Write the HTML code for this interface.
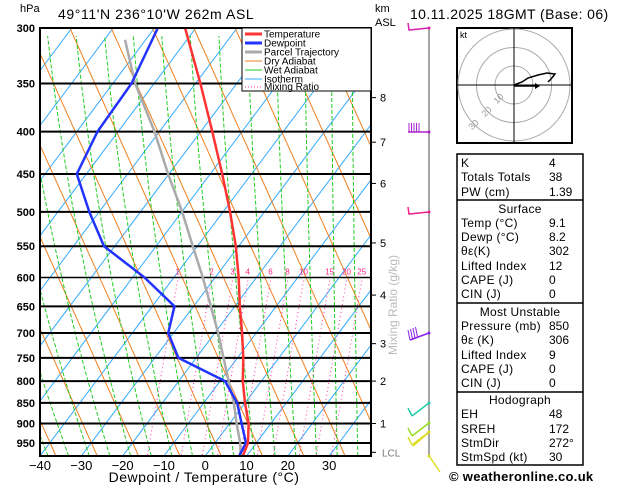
<!DOCTYPE html>
<html><head><meta charset="utf-8">
<style>
body{margin:0;background:#fff;font-family:"Liberation Sans",sans-serif;}
svg text{font-family:"Liberation Sans",sans-serif;}
</style></head>
<body>
<svg id="chart" width="629" height="486" viewBox="0 0 629 486" xmlns="http://www.w3.org/2000/svg">
<defs><clipPath id="pc"><rect x="40" y="28" width="331" height="428"/></clipPath></defs>
<rect x="0" y="0" width="629" height="486" fill="#fff"/>
<g id="bg" clip-path="url(#pc)"></g>
<g id="grid"></g>
<g id="series" clip-path="url(#pc)"></g>
<rect x="40" y="28" width="331" height="428" fill="none" stroke="#000" stroke-width="2"/>
<g id="axes"></g>
<text x="20" y="12" font-size="11">hPa</text>
<text x="58" y="19" font-size="14" letter-spacing="0.6">49°11'N  236°10'W  262m  ASL</text>
<text x="375" y="12" font-size="11">km</text>
<text x="375" y="26" font-size="11">ASL</text>
<text x="410" y="19" font-size="14" letter-spacing="0.4">10.11.2025  18GMT  (Base: 06)</text>
<text x="204" y="482" font-size="14" text-anchor="middle" letter-spacing="0.5">Dewpoint / Temperature (°C)</text>
<text transform="translate(397,355) rotate(-90)" font-size="12" fill="#bbb">Mixing Ratio (g/kg)</text>
<g>
<rect x="242" y="28" width="129" height="63" fill="#fff" stroke="#000" stroke-width="1"/>
<line x1="245" y1="34" x2="262" y2="34" stroke="#ff3333" stroke-width="3"/><text x="264" y="37.5" font-size="10">Temperature</text>
<line x1="245" y1="43" x2="262" y2="43" stroke="#2233ff" stroke-width="3"/><text x="264" y="46.5" font-size="10">Dewpoint</text>
<line x1="245" y1="52" x2="262" y2="52" stroke="#aaa" stroke-width="3"/><text x="264" y="55.5" font-size="10">Parcel Trajectory</text>
<line x1="245" y1="61" x2="262" y2="61" stroke="#f08020" stroke-width="1"/><text x="264" y="64.5" font-size="10">Dry Adiabat</text>
<line x1="245" y1="70" x2="262" y2="70" stroke="#22cc22" stroke-width="1"/><text x="264" y="73.5" font-size="10">Wet Adiabat</text>
<line x1="245" y1="79" x2="262" y2="79" stroke="#33aaff" stroke-width="1"/><text x="264" y="82.5" font-size="10">Isotherm</text>
<line x1="245" y1="87" x2="262" y2="87" stroke="#ff33aa" stroke-width="1" stroke-dasharray="1,2"/><text x="264" y="90" font-size="10">Mixing Ratio</text>
</g>
<g id="wind"></g>
<g>
<rect x="457" y="28" width="115" height="115" fill="#fff" stroke="#000" stroke-width="2"/>
<circle cx="514" cy="85" r="19" fill="none" stroke="#aaa"/>
<circle cx="514" cy="85" r="37.5" fill="none" stroke="#aaa"/>
<circle cx="514" cy="85" r="56" fill="none" stroke="#aaa"/>
<line x1="457" y1="85" x2="572" y2="85" stroke="#000"/>
<line x1="514" y1="28" x2="514" y2="143" stroke="#000"/>
<text x="460" y="38" font-size="9">kt</text>
<text x="495" y="101" font-size="9" fill="#999" transform="rotate(-45 500 100)">10</text>
<text x="483" y="114" font-size="9" fill="#999" transform="rotate(-45 488 113)">20</text>
<text x="470" y="127" font-size="9" fill="#999" transform="rotate(-45 475 126)">30</text>
<polyline points="514,85 522,82 528,78 538,75 547,73 555,74 551,79 548,82" fill="none" stroke="#000" stroke-width="1.5"/>
<polyline points="514,86 535,86" fill="none" stroke="#000" stroke-width="1.5"/>
<polygon points="535,83 540,86 535,89" fill="#000"/>
</g>
<g id="table"></g>
<text x="449" y="481" font-size="13" font-weight="bold" letter-spacing="0.3">© weatheronline.co.uk</text>
<script>
const pressures=[300,350,400,450,500,550,600,650,700,750,800,850,900,950,985];
const tempVals=[-82.6,-68.8,-57.2,-47.1,-38.3,-30.7,-24.3,-18.8,-13.4,-8.6,-4.5,0,4.6,8,9.1];
const dewVals=[-89.2,-85.5,-85,-82.3,-72.4,-62.6,-47.1,-34.6,-31.3,-24.3,-8.8,-1.9,2.9,7.5,8.2];
const parcelP=[310,350,400,450,500,550,600,650,700,750,800,850,900,950,985];
const parcelVals=[-95,-84.6,-71.2,-60.2,-49.9,-41.1,-33,-25.8,-19.2,-13.4,-7.9,-2.7,1.7,6.1,8.6];
const pressureTicks=[300,350,400,450,500,550,600,650,700,750,800,850,900,950];
const tempTicks=[-40,-30,-20,-10,0,10,20,30];
const kmTicks=["8","7","6","5","4","3","2","1","LCL"];
const kmPress=[364,412,462,545,630,721,800,900,975];
const mixLabels=["1","2","3","4","6","8","10","15","20","25"];
const mixTemps=[-39.1,-30.9,-25.8,-22.1,-16.6,-12.5,-8.6,-2.3,1.8,5.5];

const NS="http://www.w3.org/2000/svg";
const Y0=28,K=360,YB=456,X0=40,SX=4.13,SK=0.75;
function yOf(p){return Y0+K*Math.log(p/300);}
function xOf(T,p){return X0+(T+40)*SX+SK*(YB-yOf(p));}
function mk(tag,attrs,parent){const e=document.createElementNS(NS,tag);for(const k in attrs)e.setAttribute(k,attrs[k]);parent.appendChild(e);return e;}
const bg=document.getElementById('bg');
for(let T=-140;T<=40;T+=10){
 const l=mk('line',{x1:xOf(T,985),y1:YB,x2:xOf(T,300),y2:Y0,stroke:'#33aaff','stroke-width':1},bg);
 
 
}
for(let i=-12;i<=12;i++){
 const xb=40+i*41.3+16;
 const l=mk('line',{x1:xb,y1:YB,x2:xb-0.45*428,y2:Y0,stroke:'#f08020','stroke-width':1},bg);
 
 
}
for(let i=-6;i<=16;i++){
 const xb=40+i*20.65+8;
 const s=Math.max(0.02,0.4-(xb-40)*0.0013);
 let pts=[];for(let y=YB;y>=Y0;y-=10){const d=YB-y;pts.push((xb-s*d*(1-d/1400)).toFixed(1)+','+y);}
 const l=mk('polyline',{points:pts.join(' '),fill:'none',stroke:'#22cc22','stroke-width':1,'stroke-dasharray':'4,2'},bg);
 
 
}
mixLabels.forEach((lab,i)=>{
 const T=mixTemps[i];const x6=xOf(T,600);const y6=yOf(600);
 const l=mk('line',{x1:x6,y1:y6+3,x2:x6-0.17*(YB-y6),y2:YB,stroke:'#ff33aa','stroke-width':1,'stroke-dasharray':'1,3'},bg);
 
 
 const t=mk('text',{x:x6,y:y6-3,'font-size':8,fill:'#ff2288','text-anchor':'middle'},document.getElementById('axes'));
 t.textContent=lab;
 
 
});
const grid=document.getElementById('grid'),axes=document.getElementById('axes');
pressureTicks.forEach(p=>{
 const y=yOf(p);
 const l=mk('line',{x1:40,y1:y,x2:371,y2:y,stroke:'#000','stroke-width':p==600?1.5:2},grid);
 
 
 const t=mk('text',{x:35,y:y+4,'font-size':11,'font-weight':'bold','text-anchor':'end'},axes);
 t.textContent=p;
 
 
});
tempTicks.forEach(T=>{
 const x=X0+(T+40)*SX;
 const t=mk('text',{x:x,y:470,'font-size':13,'text-anchor':'middle'},axes);
 t.textContent=(T<0?'\u2212'+(-T):T);
 
 
});
kmTicks.forEach((k,i)=>{
 const y=yOf(kmPress[i]);
 mk('line',{x1:371,y1:y,x2:376,y2:y,stroke:'#000'},axes);
 const t=mk('text',{x:k=='LCL'?382:380,y:y+4,'font-size':k=='LCL'?10:11,fill:k=='LCL'?'#777':'#000'},axes);
 t.textContent=k;
 
 
});
const series=document.getElementById('series');
function line(P,V,col,w,name){
 const pts=P.map((p,i)=>xOf(V[i],p).toFixed(1)+','+yOf(p).toFixed(1)).join(' ');
 const e=mk('polyline',{points:pts,fill:'none',stroke:col,'stroke-width':w,'stroke-linejoin':'round'},series);
 
 
}
line(parcelP,parcelVals,'#aaaaaa',2.5,'parcel-trajectory');
line(pressures,dewVals,'#2233ff',2.5,'dewpoint-line');
line(pressures,tempVals,'#ff3333',2.5,'temperature-line');
const wind=document.getElementById('wind');
mk('line',{x1:429,y1:28,x2:429,y2:456,stroke:'#888','stroke-width':1.5},wind);
const barbY=[28,132,212,333,403,423,432,456];
const barbC=['#dd22aa','#aa22cc','#ee2288','#8822ee','#22ccaa','#99dd22','#dddd22','#dddd22'];
barbY.forEach((y,i)=>{
 const c=barbC[i];
 if(i==0||i==2){mk('polyline',{points:`429,${y} 409,${y+2} 408,${y-5}`,fill:'none',stroke:c,'stroke-width':1.5},wind);}
 else if(i==1){mk('line',{x1:429,y1:y,x2:408,y2:y,stroke:c,'stroke-width':1.5},wind);for(let k=0;k<5;k++)mk('line',{x1:409+k*2.5,y1:y,x2:409+k*2.5,y2:y-9,stroke:c,'stroke-width':1},wind);}
 else if(i==3){mk('line',{x1:429,y1:y,x2:410,y2:y+7,stroke:c,'stroke-width':1.5},wind);for(let k=0;k<4;k++)mk('line',{x1:410+k*2.5,y1:y+7-k,x2:408+k*2.5,y2:y-3-k,stroke:c,'stroke-width':1},wind);}
 else if(i<7){mk('line',{x1:429,y1:y,x2:412,y2:y+13,stroke:c,'stroke-width':1.5},wind);mk('line',{x1:412,y1:y+13,x2:408,y2:y+5,stroke:c,'stroke-width':1.5},wind);}
 else {mk('line',{x1:429,y1:y-24,x2:413,y2:y-10,stroke:c,'stroke-width':1.5},wind);mk('line',{x1:429,y1:y,x2:440,y2:y+16,stroke:c,'stroke-width':1.5},wind);}
 mk('circle',{cx:429,cy:y,r:1.5,fill:c},wind);
});
const tbl=document.getElementById('table');
mk('rect',{x:457,y:154,width:126,height:311,fill:'#fff',stroke:'#000','stroke-width':1.5},tbl);
[200,303,392].forEach(y=>mk('line',{x1:457,y1:y,x2:583,y2:y,stroke:'#000','stroke-width':1.5},tbl));
const rows=[["K","4",167],["Totals Totals","38",181],["PW (cm)","1.39",196],["Surface",null,213],["Temp (°C)","9.1",227],["Dewp (°C)","8.2",241],["θε(K)","302",255],["Lifted Index","12",270],["CAPE (J)","0",284],["CIN (J)","0",298],["Most Unstable",null,316],["Pressure (mb)","850",330],["θε (K)","306",344],["Lifted Index","9",359],["CAPE (J)","0",373],["CIN (J)","0",387],["Hodograph",null,404],["EH","48",418],["SREH","172",433],["StmDir","272°",447],["StmSpd (kt)","30",461]];
rows.forEach(r=>{
 const t=mk('text',{x:r[1]===null?520:461,y:r[2],'font-size':12,'text-anchor':r[1]===null?'middle':'start','letter-spacing':'0.3'},tbl);
 t.textContent=r[0];
 
 
 if(r[1]!==null){const v=mk('text',{x:549,y:r[2],'font-size':12},tbl);v.textContent=r[1];
 
 }
});
</script>
</svg>
</body></html>
